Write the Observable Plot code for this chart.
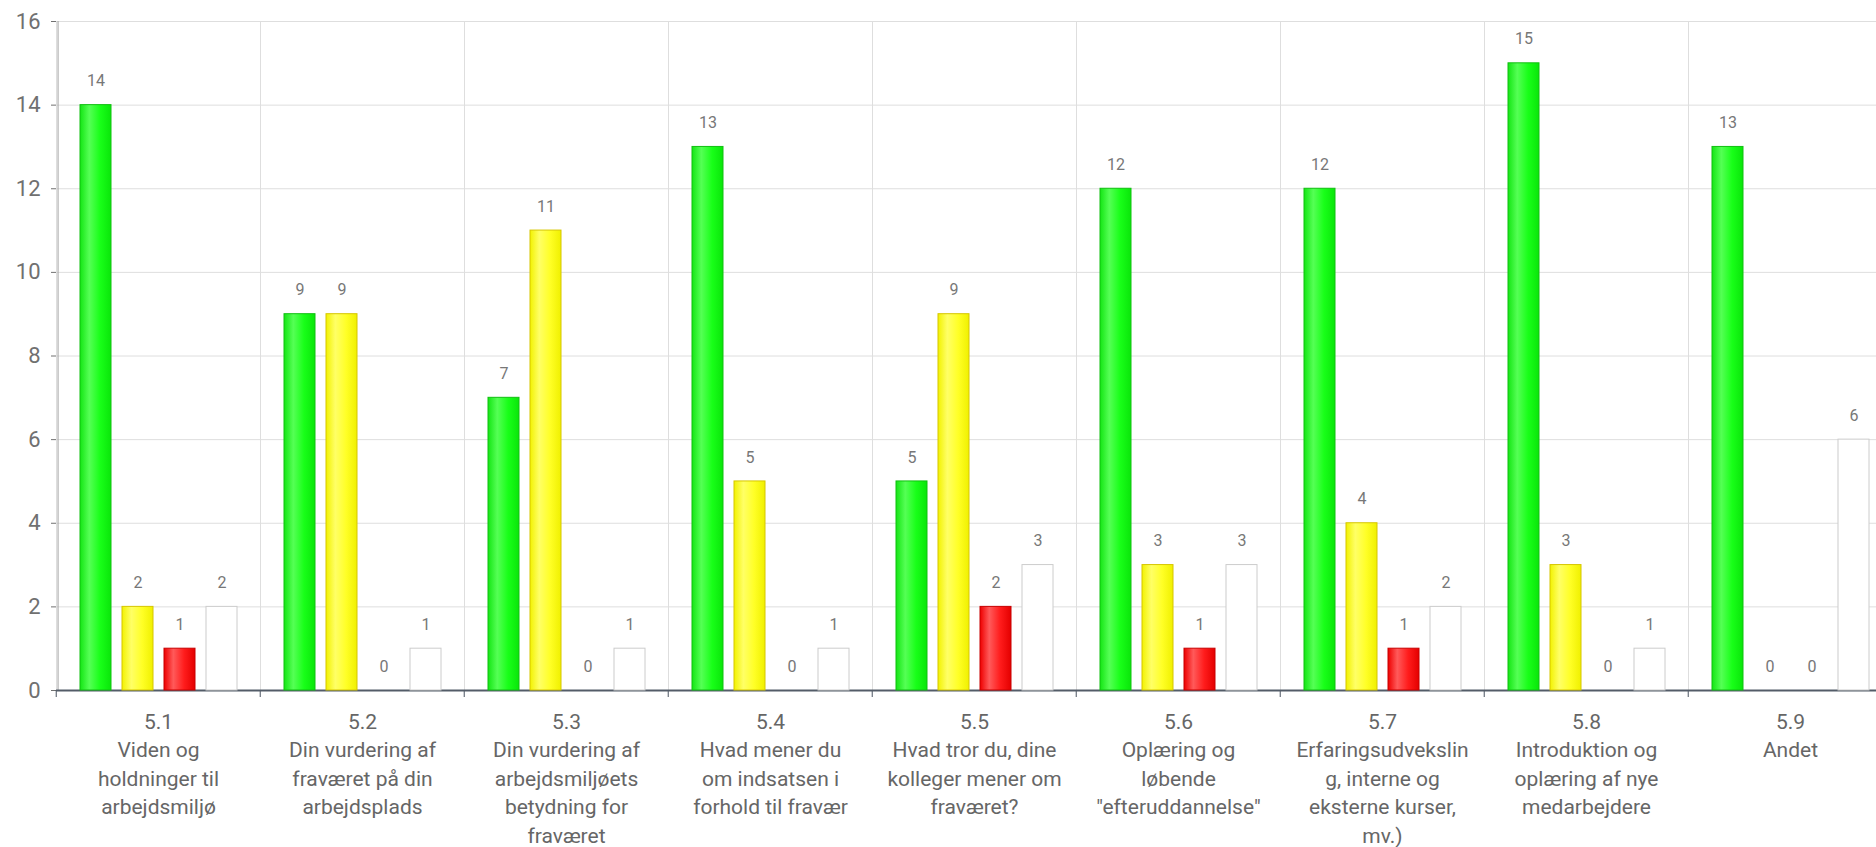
<!DOCTYPE html>
<html>
<head>
<meta charset="utf-8">
<script src="https://cdn.jsdelivr.net/npm/d3@7"></script>
<script src="https://cdn.jsdelivr.net/npm/@observablehq/plot@0.6"></script>
<style>
  html, body { margin: 0; padding: 0; background: #fff; overflow: hidden; }
  #chart { width: 1876px; height: 847px; overflow: hidden; }
  #chart svg { max-width: none !important; }
</style>
</head>
<body>
<div id="chart"></div>
<script>
// ---- data ----
const categories = ["5.1", "5.2", "5.3", "5.4", "5.5", "5.6", "5.7", "5.8", "5.9"];
const categoryLabels = [
  "5.1\nViden og\nholdninger til\narbejdsmiljø",
  "5.2\nDin vurdering af\nfraværet på din\narbejdsplads",
  "5.3\nDin vurdering af\narbejdsmiljøets\nbetydning for\nfraværet",
  "5.4\nHvad mener du\nom indsatsen i\nforhold til fravær",
  "5.5\nHvad tror du, dine\nkolleger mener om\nfraværet?",
  "5.6\nOplæring og\nløbende\n\"efteruddannelse\"",
  "5.7\nErfaringsudvekslin\ng, interne og\neksterne kurser,\nmv.)",
  "5.8\nIntroduktion og\noplæring af nye\nmedarbejdere",
  "5.9\nAndet"
];
const seriesKeys = ["green", "yellow", "red", "white"];
const greenValues  = [14, 9, 7, 13, 5, 12, 12, 15, 13];
const yellowValues = [2, 9, 11, 5, 9, 3, 4, 3, 0];
const redValues    = [1, 0, 0, 0, 2, 1, 1, 0, 0];
const whiteValues  = [2, 1, 1, 1, 3, 3, 2, 1, 6];
const yTicks = [0, 2, 4, 6, 8, 10, 12, 14, 16];

// ---- styling ----
const seriesStyle = {
  green:  {fill: "url(#gGreen)",  stroke: "#10c010"},
  yellow: {fill: "url(#gYellow)", stroke: "#d6c600"},
  red:    {fill: "url(#gRed)",    stroke: "#c80000"},
  white:  {fill: "#ffffff",       stroke: "#cccccc"}
};
const seriesValues = {green: greenValues, yellow: yellowValues, red: redValues, white: whiteValues};
const labelOf = Object.fromEntries(categories.map((c, i) => [c, categoryLabels[i]]));

const rows = categories.flatMap((cat, i) =>
  seriesKeys.map(s => ({cat, series: s, value: seriesValues[s][i]}))
);

const width = 1894, height = 847;
const marginLeft = 53, marginRight = 0, marginTop = 21, marginBottom = 157;
const band = (width - marginLeft - marginRight) / categories.length;
const padIn = 0.27, padOut = 0.52;
const step = band / (seriesKeys.length - padIn + 2 * padOut);
const firstCenterOffset = padOut * step + (1 - padIn) * step / 2;
const font = "Roboto, 'Open Sans', sans-serif";

const barMarks = seriesKeys.map(s => Plot.barY(rows.filter(d => d.series === s), {
  fx: "cat", x: "series", y: "value",
  fill: seriesStyle[s].fill, stroke: seriesStyle[s].stroke, strokeWidth: 1
}));

const svg = Plot.plot({
  width, height, marginLeft, marginRight, marginTop, marginBottom,
  style: {fontFamily: font, background: "white", overflow: "visible", maxWidth: "none"},
  fx: {domain: categories, padding: 0, label: null},
  x: {domain: seriesKeys, paddingInner: padIn, paddingOuter: padOut, axis: null},
  y: {domain: [0, 16], label: null},
  marks: [
    Plot.gridY(yTicks, {stroke: "#dedede", strokeOpacity: 1}),
    Plot.frame({stroke: "#dedede"}),
    Plot.ruleX([categories[0]], {fx: d => d, x: () => seriesKeys[0], y1: 0, y2: 16, dx: -firstCenterOffset, stroke: "#a0a0a0"}),
    Plot.axisY(yTicks, {tickSize: 5, tickPadding: 11, fontSize: 22, color: "#707070", label: null}),
    Plot.axisFx({anchor: "bottom", tickSize: 7, dx: -band / 2, tickFormat: () => "", color: "#4a5360", label: null}),
    Plot.axisFx({anchor: "bottom", tickSize: 0, tickPadding: 18, tickFormat: d => labelOf[d], lineHeight: 1.36, fontSize: 21, color: "#666", label: null}),
    Plot.ruleY([0], {stroke: "#535c68", strokeWidth: 2}),
    ...barMarks,
    Plot.text(rows, {
      fx: "cat", x: "series", y: "value", text: d => String(d.value),
      dy: -24, fill: "#777", fontSize: 16, stroke: "white", strokeWidth: 10
    })
  ]
});

svg.style.maxWidth = "none";
svg.style.width = width + "px";
svg.style.height = height + "px";

d3.select(svg).insert("defs", ":first-child").html(`
  <linearGradient id="gGreen" x1="0" x2="1" y1="0" y2="0">
    <stop offset="0" stop-color="#14e614"/>
    <stop offset="0.3" stop-color="#55ff55"/>
    <stop offset="0.65" stop-color="#18ff18"/>
    <stop offset="1" stop-color="#0ae60a"/>
  </linearGradient>
  <linearGradient id="gYellow" x1="0" x2="1" y1="0" y2="0">
    <stop offset="0" stop-color="#f2f200"/>
    <stop offset="0.3" stop-color="#ffff66"/>
    <stop offset="0.65" stop-color="#ffff26"/>
    <stop offset="1" stop-color="#f0f000"/>
  </linearGradient>
  <linearGradient id="gRed" x1="0" x2="1" y1="0" y2="0">
    <stop offset="0" stop-color="#ee0000"/>
    <stop offset="0.3" stop-color="#ff5a5a"/>
    <stop offset="0.65" stop-color="#ff1c1c"/>
    <stop offset="1" stop-color="#e40000"/>
  </linearGradient>
`);

document.getElementById("chart").appendChild(svg);
</script>
</body>
</html>
